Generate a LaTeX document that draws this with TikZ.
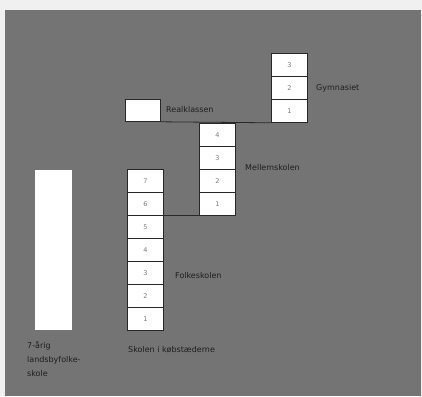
\documentclass[tikz,border=0pt]{standalone}
\usepackage{fontspec}
\setmainfont{DejaVu Sans}
\definecolor{bg}{RGB}{116,116,116}
\definecolor{edge}{RGB}{40,40,40}
\definecolor{numc}{RGB}{125,125,125}
\definecolor{labc}{RGB}{30,30,30}
\begin{document}
\begin{tikzpicture}[x=1pt,y=-1pt,
  yr/.style={draw=edge,line width=0.8pt,fill=white,minimum width=36pt,minimum height=23pt,inner sep=0pt,anchor=north west,font=\fontsize{6.5}{7}\selectfont,text=numc},
  bar/.style={fill=white,draw=none,minimum width=37pt,minimum height=160pt,inner sep=0pt,anchor=north west},
  lab/.style={font=\fontsize{8}{14}\selectfont,text=labc,anchor=west,inner sep=0pt,align=left},
  conn/.style={draw=edge,line width=0.8pt}]
\useasboundingbox (0,0) rectangle (422,396);
\fill[white!94!black] (0,0) rectangle (422,396);
\fill[bg] (5,10) rectangle (421,396);
% left bar
\node[bar] (land) at (35,170) {};
% folkeskole column
\foreach \n [count=\i from 0] in {7,6,5,4,3,2,1}
  \node[yr] (f\n) at (127,169+23*\i) {\n};
% mellemskole column
\foreach \n [count=\i from 0] in {4,3,2,1}
  \node[yr] (m\n) at (199,123+23*\i) {\n};
% gymnasium column
\foreach \n [count=\i from 0] in {3,2,1}
  \node[yr] (g\n) at (271,53+23*\i) {\n};
% realklasse
\node[yr,minimum width=35pt,minimum height=22pt] (real) at (125,99) {};
% connectors
\draw[conn] (f6.south east) -- (m1.south west);
\draw[conn] (real.south east) -- (g1.south west);
% labels
\node[lab] (lg) at (316,88) {Gymnasiet};
\node[lab] (lr) at (166,110) {Realklassen};
\node[lab] (lm) at (245,168) {Mellemskolen};
\node[lab] (lf) at (175,276) {Folkeskolen};
\node[lab] (lk) at (128,350) {Skolen i købstæderne};
\node[lab,anchor=north west] (ll) at (27,341) {7-årig\\landsbyfolke-\\skole};
\end{tikzpicture}
\end{document}
